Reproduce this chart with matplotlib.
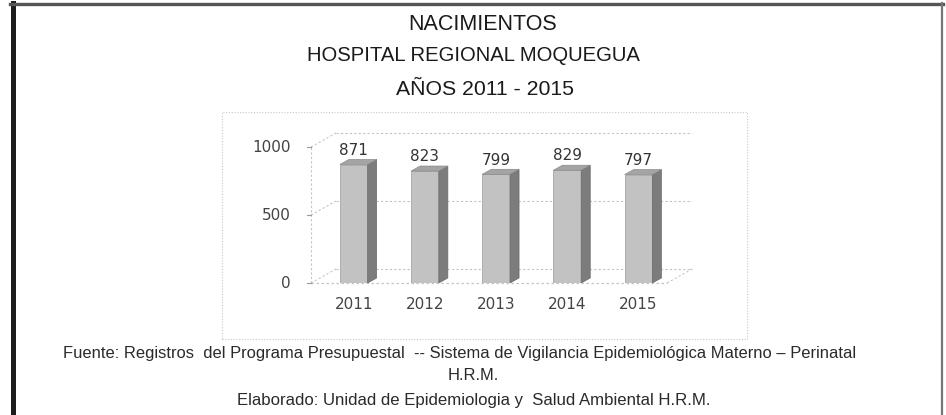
import matplotlib.pyplot as plt
from matplotlib.patches import Polygon, Rectangle
from matplotlib.lines import Line2D

# datos
anios = ['2011', '2012', '2013', '2014', '2015']
nacimientos = [871, 823, 799, 829, 797]
yticks = [0, 500, 1000]

titulo1 = 'NACIMIENTOS'
titulo2 = 'HOSPITAL REGIONAL MOQUEGUA'
titulo3 = 'AÑOS 2011 - 2015'
fuente1 = ('Fuente: Registros  del Programa Presupuestal  -- Sistema de Vigilancia '
           'Epidemiológica Materno – Perinatal')
fuente2 = 'H.R.M.'
elaborado = 'Elaborado: Unidad de Epidemiologia y  Salud Ambiental H.R.M.'

W, H = 946, 415
fig = plt.figure(figsize=(W / 100, H / 100), dpi=100)
fig.patch.set_facecolor('white')


def fy(py):
    return 1 - py / H


def fx(px):
    return px / W


# marco exterior del documento escaneado
fig.add_artist(Line2D([fx(12.5), fx(12.5)], [fy(3), 0], color='#1e1e1e', lw=3.6))
fig.add_artist(Line2D([fx(10), fx(943)], [fy(4.5), fy(4.5)], color='#555555', lw=2.4))
fig.add_artist(Line2D([fx(942), fx(942)], [fy(3), 0], color='#777777', lw=1.6))

# marco del grafico
fig.add_artist(Rectangle((fx(222), fy(339)), fx(747) - fx(222), fy(112) - fy(339),
                         fill=False, ec='#c8c8c8', lw=0.8, ls=(0, (1, 1.5))))

# titulos
kw = dict(ha='center', va='baseline', color='#1a1a1a', family='Liberation Sans')
fig.text(fx(483), fy(30), titulo1, fontsize=15.5, **kw)
fig.text(fx(473), fy(61), titulo2, fontsize=14.6, **kw)
fig.text(fx(485), fy(95), titulo3, fontsize=15.3, **kw)

kw2 = dict(ha='center', va='baseline', color='#2a2a2a', family='Liberation Sans')
fig.text(fx(460), fy(358), fuente1, fontsize=11.9, **kw2)
fig.text(fx(473), fy(380), fuente2, fontsize=11.9, **kw2)
fig.text(fx(474), fy(405), elaborado, fontsize=12.1, **kw2)

# ejes (plano frontal)
ax = fig.add_axes([fx(311), fy(283), fx(667) - fx(311), fy(147) - fy(283)])
ax.set_xlim(-0.6, 4.4)
ax.set_ylim(0, 1000)
ax.axis('off')

x = list(range(len(anios)))
# profundidad del fondo y de las barras (unidades de datos)
fdx, fdy = 0.352, 103
bdx, bdy = 0.127, 37
gris = '#c4c4c4'
lsg = (0, (2, 2))

x0, x1 = ax.get_xlim()
# pared de fondo y piso
for v in yticks:
    ax.plot([x0, x0 + fdx], [v, v + fdy], color=gris, lw=0.8, ls=lsg, clip_on=False)
    ax.plot([x0 + fdx, x1 + fdx], [v + fdy, v + fdy], color=gris, lw=0.8, ls=lsg,
            clip_on=False)
ax.plot([x0, x1], [0, 0], color=gris, lw=0.9, ls=lsg, clip_on=False)
ax.plot([x1, x1 + fdx], [0, fdy], color=gris, lw=0.8, ls=lsg, clip_on=False)
ax.plot([x0, x0], [0, 1000], color=gris, lw=0.8, ls=lsg, clip_on=False)
for v in yticks:
    ax.plot([x0 - 0.06, x0], [v, v], color='#999999', lw=0.8, clip_on=False)
    ax.text(x0 - 0.28, v, str(v), ha='right', va='center', fontsize=11,
            color='#444444', family='DejaVu Sans')

# barras 3D
w = 0.39
for xi, v, lab in zip(x, nacimientos, anios):
    l, r = xi - w / 2, xi + w / 2
    ax.bar(xi, v, width=w, color='#c2c2c2', edgecolor='#9a9a9a', lw=0.5, zorder=3)
    ax.add_patch(Polygon([(r, 0), (r + bdx, bdy), (r + bdx, v + bdy), (r, v)],
                         closed=True, fc='#7c7c7c', ec='#6a6a6a', lw=0.5, zorder=3))
    ax.add_patch(Polygon([(l, v), (l + bdx, v + bdy), (r + bdx, v + bdy), (r, v)],
                         closed=True, fc='#a4a4a4', ec='#8a8a8a', lw=0.5, zorder=3))
    ax.text(xi, v + 105, str(v), ha='center', va='center', fontsize=11,
            color='#333333', family='DejaVu Sans', zorder=4)
    ax.text(xi, -160, lab, ha='center', va='center', fontsize=11,
            color='#444444', family='DejaVu Sans')

fig.savefig('out.png', dpi=100, facecolor='white')
